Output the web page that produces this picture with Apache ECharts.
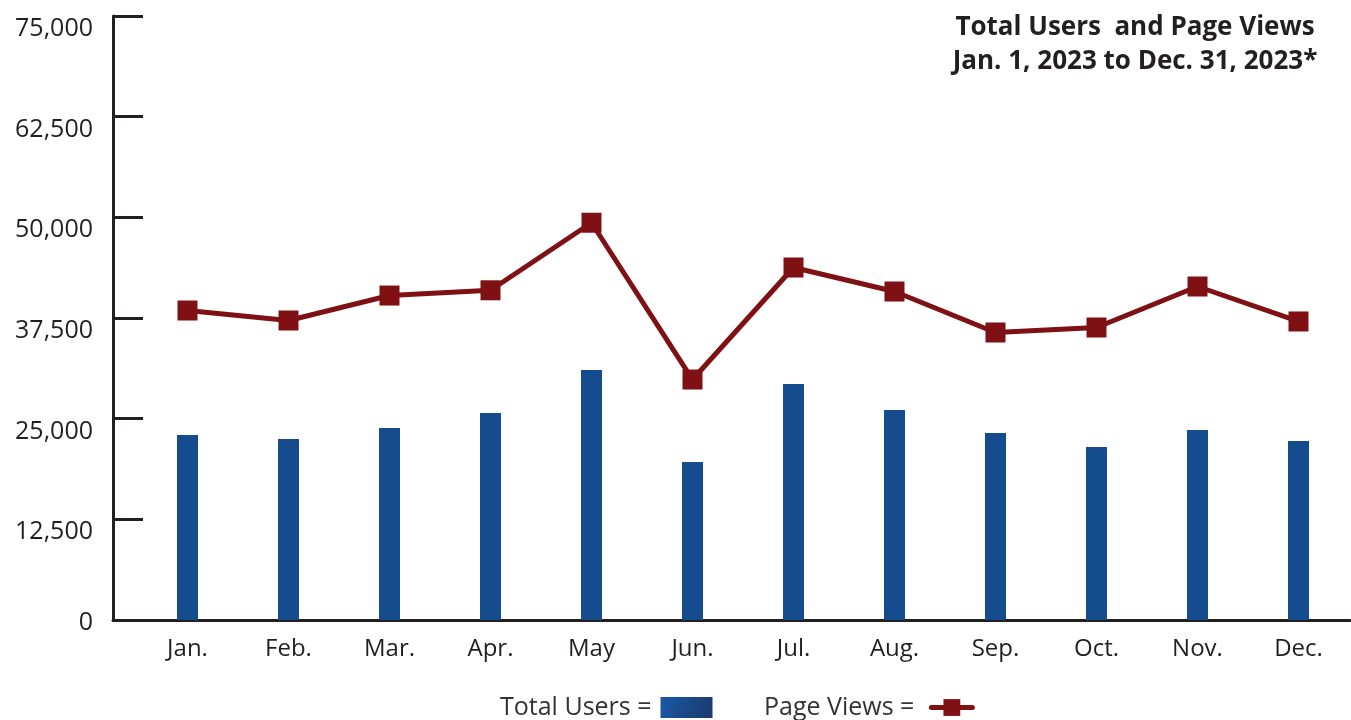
<!DOCTYPE html>
<html>
<head>
<meta charset="utf-8">
<script src="https://cdn.jsdelivr.net/npm/echarts@6/dist/echarts.min.js"></script>
<style>html,body{margin:0;padding:0;background:#fff}#c{width:1351px;height:720px}</style>
</head>
<body>
<div id="c"></div>
<script>
const months = ['Jan.', 'Feb.', 'Mar.', 'Apr.', 'May', 'Jun.', 'Jul.', 'Aug.', 'Sep.', 'Oct.', 'Nov.', 'Dec.'];
const totalUsers = [22970, 22480, 23840, 25700, 31040, 19620, 29300, 26080, 23220, 21480, 23590, 22230];
const pageViews = [38430, 37190, 40290, 40940, 49330, 29860, 43770, 40790, 35700, 36320, 41410, 37070];
const yTicks = [0, 12500, 25000, 37500, 50000, 62500, 75000];
const titleLines = ['Total Users  and Page Views', 'Jan. 1, 2023 to Dec. 31, 2023*'];

const FONT = 'Open Sans';
const yMin = yTicks[0], yMax = yTicks[yTicks.length - 1], yStep = yTicks[1] - yTicks[0];

const chart = echarts.init(document.getElementById('c'));
chart.setOption({
  animation: false,
  backgroundColor: '#fff',
  textStyle: { fontFamily: FONT },
  title: {
    text: titleLines.join('\n'),
    left: 1130, top: 6, textAlign: 'center',
    textStyle: { fontFamily: FONT, fontSize: 26, fontWeight: 'bold', color: '#231f20', lineHeight: 34 }
  },
  legend: [
    {
      data: [{ name: 'Total Users', itemStyle: { color: new echarts.graphic.LinearGradient(0, 0, 1, 1, [
        { offset: 0, color: '#1a5aa6' }, { offset: 1, color: '#1b3a6b' }]) } }],
      left: 495, top: 690, align: 'right', icon: 'rect', itemWidth: 52, itemHeight: 21,
      formatter: n => n + ' =',
      textStyle: { fontFamily: FONT, fontSize: 25, color: '#333', padding: [0, 4, 0, 0] }
    },
    {
      data: ['Page Views'],
      left: 759, top: 690, align: 'right', itemWidth: 41, itemHeight: 21,
      lineStyle: { width: 5, cap: 'round' },
      formatter: n => n + ' =',
      textStyle: { fontFamily: FONT, fontSize: 25, color: '#333', padding: [0, 12, 0, 0] }
    }
  ],
  grid: [
    { left: 113, right: 1, top: 16, bottom: 100 },
    { left: 137, right: 2, top: 16, bottom: 100 }
  ],
  xAxis: [
    {
      type: 'value', gridIndex: 0, min: 0, max: 1,
      axisLine: { show: true, onZero: false, lineStyle: { color: '#231f20', width: 3 } },
      axisTick: { show: false }, axisLabel: { show: false }, splitLine: { show: false }
    },
    {
      type: 'category', gridIndex: 1, data: months, boundaryGap: true,
      axisLine: { show: false }, axisTick: { show: false },
      axisLabel: { fontFamily: FONT, fontSize: 24, color: '#231f20', margin: 17 }
    }
  ],
  yAxis: [
    {
      type: 'value', gridIndex: 0, min: yMin, max: yMax, interval: yStep,
      axisLine: { show: true, lineStyle: { color: '#231f20', width: 3 } },
      axisTick: { show: true, inside: true, length: 30, lineStyle: { color: '#231f20', width: 3 } },
      splitLine: { show: false },
      axisLabel: {
        margin: 20, color: '#231f20', fontFamily: FONT, fontSize: 25, align: 'right', verticalAlign: 'middle',
        formatter: v => v === 0 ? '{z|0}' : '{n|' + v.toLocaleString('en-US') + '}',
        rich: {
          z: { fontFamily: FONT, fontSize: 25, color: '#231f20', padding: [6, 0, 0, 0] },
          n: { fontFamily: FONT, fontSize: 25, color: '#231f20', padding: [26, 0, 0, 0] }
        }
      }
    },
    {
      type: 'value', gridIndex: 1, min: yMin, max: yMax, interval: yStep, show: false
    }
  ],
  series: [
    {
      name: 'Total Users', type: 'bar', xAxisIndex: 1, yAxisIndex: 1,
      data: totalUsers, barWidth: 21,
      itemStyle: { color: '#154c8e' }
    },
    {
      name: 'Page Views', type: 'line', xAxisIndex: 1, yAxisIndex: 1,
      data: pageViews, symbol: 'rect', symbolSize: 20,
      lineStyle: { color: '#7f1013', width: 5, cap: 'round' },
      itemStyle: { color: '#7f1013' }
    }
  ]
});
</script>
</body>
</html>
